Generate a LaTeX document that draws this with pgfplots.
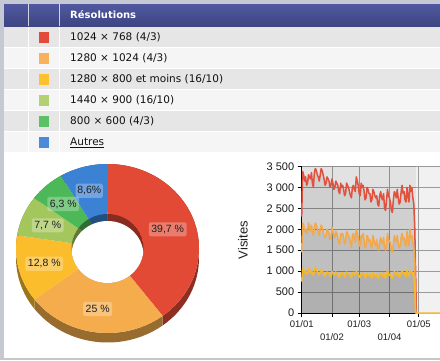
\documentclass[border=0pt]{standalone}
\usepackage{pgfplots}
\pgfplotsset{compat=1.18}
\usepackage{pgfplotstable}
\usepackage{fontspec}
\setmainfont{DejaVu Sans}
\newfontfamily\arial{Liberation Sans}
\usetikzlibrary{calc}

\definecolor{pageBorder}{HTML}{C5C9D3}
\definecolor{hdrTop}{HTML}{5059A0}
\definecolor{hdrBot}{HTML}{3D4582}
\definecolor{rowA}{HTML}{E6E6E6}
\definecolor{rowB}{HTML}{F5F5F5}
\definecolor{txt}{HTML}{111111}
\definecolor{sRed}{HTML}{E24B3A}
\definecolor{sOrange}{HTML}{F7B25A}
\definecolor{sYellow}{HTML}{FCC030}
\definecolor{sLgreen}{HTML}{B3D072}
\definecolor{sGreen}{HTML}{5CC065}
\definecolor{sBlue}{HTML}{4A8AD9}
\definecolor{pRed}{HTML}{E24A35}
\definecolor{pOrange}{HTML}{F5AC4C}
\definecolor{pYellow}{HTML}{FBBD2C}
\definecolor{pLgreen}{HTML}{A4C75D}
\definecolor{pGreen}{HTML}{4DB858}
\definecolor{pBlue}{HTML}{3B82D5}
\definecolor{gridcol}{HTML}{9A9A9A}
\definecolor{rbg}{HTML}{F1F1F1}
\definecolor{lRed}{HTML}{E0523E}
\definecolor{lOrange}{HTML}{F2A94E}
\definecolor{lYellow}{HTML}{F6B82A}

\pgfplotstableread[row sep=\\]{x y\\
0 2300\\ 1 3380\\ 2 3300\\ 3 3150\\ 4 3250\\ 5 3050\\ 6 3100\\
7 3300\\ 8 3250\\ 9 3200\\ 10 3350\\ 11 3100\\ 12 3000\\ 13 3350\\
14 3450\\ 15 3400\\ 16 3300\\ 17 3250\\ 18 3150\\ 19 3300\\ 20 3450\\
21 3400\\ 22 3300\\ 23 3200\\ 24 3050\\ 25 3100\\ 26 3250\\ 27 3200\\
28 3150\\ 29 3000\\ 30 3050\\ 31 3200\\ 32 3100\\ 33 2950\\ 34 3000\\
35 3150\\ 36 3100\\ 37 3050\\ 38 2900\\ 39 2850\\ 40 3100\\ 41 3000\\
42 3050\\ 43 2950\\ 44 2800\\ 45 2850\\ 46 3100\\ 47 3050\\ 48 3000\\
49 2900\\ 50 2800\\ 51 2750\\ 52 3000\\ 53 3050\\ 54 2950\\ 55 2900\\
56 3250\\ 57 3150\\ 58 3050\\ 59 2850\\ 60 2800\\ 61 3100\\ 62 3000\\
63 3050\\ 64 2900\\ 65 2700\\ 66 2750\\ 67 3000\\ 68 2950\\ 69 2850\\
70 2850\\ 71 2650\\ 72 2700\\ 73 2950\\ 74 2900\\ 75 2800\\ 76 2750\\
77 2800\\ 78 2600\\ 79 2550\\ 80 2800\\ 81 2900\\ 82 2750\\ 83 2700\\
84 2850\\ 85 2500\\ 86 2450\\ 87 2700\\ 88 2950\\ 89 2800\\ 90 2750\\
91 2650\\ 92 2450\\ 93 2400\\ 94 2700\\ 95 2900\\ 96 2850\\ 97 2750\\
98 2950\\ 99 2750\\ 100 2600\\ 101 2650\\ 102 2900\\ 103 3050\\ 104 2850\\
105 2900\\ 106 2700\\ 107 2650\\ 108 3000\\ 109 2800\\ 110 2650\\ 111 3050\\
112 2900\\ 113 3000\\ 114 2750\\ 115 2600\\ 116 2000\\ 117 800\\ 117.6 0\\
}\redT

\pgfplotstableread[row sep=\\]{x y\\
0 1450\\ 1 2150\\ 2 2100\\ 3 1950\\ 4 2000\\ 5 1900\\ 6 1950\\
7 2150\\ 8 2050\\ 9 1950\\ 10 2100\\ 11 1950\\ 12 1850\\ 13 2050\\
14 2150\\ 15 2100\\ 16 2000\\ 17 1950\\ 18 1850\\ 19 2000\\ 20 2100\\
21 2050\\ 22 1950\\ 23 1850\\ 24 1800\\ 25 1850\\ 26 2000\\ 27 1950\\
28 1900\\ 29 1750\\ 30 1750\\ 31 2050\\ 32 1950\\ 33 1850\\ 34 1800\\
35 1950\\ 36 1900\\ 37 1800\\ 38 1650\\ 39 1650\\ 40 1900\\ 41 1850\\
42 1900\\ 43 1800\\ 44 1650\\ 45 1700\\ 46 1950\\ 47 1900\\ 48 1850\\
49 1800\\ 50 1700\\ 51 1550\\ 52 1850\\ 53 1900\\ 54 1800\\ 55 1700\\
56 2000\\ 57 1900\\ 58 1800\\ 59 1600\\ 60 1600\\ 61 1850\\ 62 1800\\
63 1900\\ 64 1750\\ 65 1550\\ 66 1600\\ 67 1850\\ 68 1800\\ 69 1700\\
70 1750\\ 71 1600\\ 72 1550\\ 73 1850\\ 74 1750\\ 75 1650\\ 76 1600\\
77 1750\\ 78 1550\\ 79 1500\\ 80 1700\\ 81 1800\\ 82 1700\\ 83 1650\\
84 1800\\ 85 1550\\ 86 1500\\ 87 1650\\ 88 1900\\ 89 1750\\ 90 1700\\
91 1700\\ 92 1500\\ 93 1450\\ 94 1650\\ 95 1850\\ 96 1750\\ 97 1700\\
98 1850\\ 99 1650\\ 100 1550\\ 101 1600\\ 102 1800\\ 103 1900\\ 104 1750\\
105 1800\\ 106 1650\\ 107 1600\\ 108 1950\\ 109 1750\\ 110 1600\\ 111 2000\\
112 1800\\ 113 1850\\ 114 1700\\ 115 1550\\ 116 1200\\ 116.8 0\\
}\orangeT

\pgfplotstableread[row sep=\\]{x y\\
0 750\\ 1 1080\\ 2 1050\\ 3 950\\ 4 1000\\ 5 930\\ 6 960\\
7 1060\\ 8 1000\\ 9 940\\ 10 1020\\ 11 960\\ 12 900\\ 13 980\\
14 1100\\ 15 1040\\ 16 980\\ 17 950\\ 18 900\\ 19 970\\ 20 1030\\
21 1000\\ 22 960\\ 23 900\\ 24 880\\ 25 920\\ 26 980\\ 27 960\\
28 950\\ 29 880\\ 30 870\\ 31 990\\ 32 960\\ 33 910\\ 34 900\\
35 980\\ 36 940\\ 37 900\\ 38 850\\ 39 860\\ 40 950\\ 41 930\\
42 960\\ 43 920\\ 44 860\\ 45 880\\ 46 980\\ 47 950\\ 48 930\\
49 920\\ 50 880\\ 51 840\\ 52 950\\ 53 970\\ 54 920\\ 55 900\\
56 1000\\ 57 960\\ 58 920\\ 59 860\\ 60 850\\ 61 940\\ 62 920\\
63 960\\ 64 910\\ 65 850\\ 66 860\\ 67 950\\ 68 930\\ 69 890\\
70 920\\ 71 860\\ 72 840\\ 73 960\\ 74 920\\ 75 890\\ 76 870\\
77 930\\ 78 860\\ 79 830\\ 80 920\\ 81 950\\ 82 900\\ 83 880\\
84 960\\ 85 860\\ 86 830\\ 87 900\\ 88 1030\\ 89 930\\ 90 900\\
91 920\\ 92 850\\ 93 820\\ 94 900\\ 95 990\\ 96 940\\ 97 910\\
98 980\\ 99 900\\ 100 860\\ 101 880\\ 102 960\\ 103 1000\\ 104 940\\
105 960\\ 106 900\\ 107 870\\ 108 1020\\ 109 940\\ 110 880\\ 111 1000\\
112 960\\ 113 990\\ 114 920\\ 115 850\\ 116 650\\ 116.8 0\\ 141.8 0\\
}\yellowT

\begin{document}
\begin{tikzpicture}[x=1pt,y=1pt]
% page
\fill[white] (0,0) rectangle (440,360);
\fill[pageBorder] (0,356) rectangle (440,360);
\fill[pageBorder] (0,0) rectangle (4,360);
\fill[black!22] (0,0) rectangle (440,2.5);
% header
\shade[top color=hdrTop, bottom color=hdrBot] (4,334) rectangle (440,356);
% rows
\foreach \i/\rc in {1/rowA,2/rowB,3/rowA,4/rowB,5/rowA,6/rowB}{
  \fill[\rc] (4,{360-(26+21*\i)}) rectangle (440,{360-(27+21*(\i-1))});
}
% column separators
\fill[white] (28,208) rectangle (29,333);
\fill[white] (59,208) rectangle (60,333);
\fill[white,opacity=0.75] (28,334) rectangle (29,356);
\fill[white,opacity=0.75] (59,334) rectangle (60,356);
% squares
\foreach \i/\sc in {1/sRed,2/sOrange,3/sYellow,4/sLgreen,5/sGreen,6/sBlue}{
  \fill[\sc] (39,{360-(37+21*(\i-1))-5.5}) rectangle (49,{360-(37+21*(\i-1))+5.5});
}
% texts
\node[anchor=base west, inner sep=0, font=\bfseries\fontsize{10}{12}\selectfont, text=white] at (70,341.4) {Résolutions};
\foreach \i/\t in {1/{1024 × 768 (4/3)},2/{1280 × 1024 (4/3)},3/{1280 × 800 et moins (16/10)},4/{1440 × 900 (16/10)},5/{800 × 600 (4/3)},6/{\underline{Autres}}}{
  \node[anchor=base west, inner sep=0, font=\fontsize{10.5}{12}\selectfont, text=txt] at (70,{360-(37+21*(\i-1))-3.8}) {\t};
}

% ---------- donut ----------
\def\cx{107.5}\def\cy{111.5}
\def\rx{91.5}\def\ry{84.5}
\def\irx{36}\def\iry{34.5}
\def\th{9.5}
\def\piedata{39.7/pRed, 25/pOrange, 12.8/pYellow, 7.7/pLgreen, 6.3/pGreen, 8.6/pBlue}
% sides
\xdef\cum{90}
\foreach \p/\c in \piedata {
  \pgfmathsetmacro\ae{\cum-3.6*\p}
  \fill[\c!62!black] ($(\cx,\cy)+(\cum:{\rx} and {\ry})$) arc[start angle=\cum, end angle=\ae, x radius=\rx, y radius=\ry] -- ++(0,-\th) arc[start angle=\ae, end angle=\cum, x radius=\rx, y radius=\ry] -- cycle;
  \xdef\cum{\ae}
}
% faces
\xdef\cum{90}
\foreach \p/\c in \piedata {
  \pgfmathsetmacro\ae{\cum-3.6*\p}
  \fill[\c] (\cx,\cy) -- ($(\cx,\cy)+(\cum:{\rx} and {\ry})$) arc[start angle=\cum, end angle=\ae, x radius=\rx, y radius=\ry] -- cycle;
  \xdef\cum{\ae}
}
% hole
\begin{scope}
\clip (\cx,\cy) ellipse [x radius=\irx, y radius=\iry];
\xdef\cum{90}
\foreach \p/\c in \piedata {
  \pgfmathsetmacro\ae{\cum-3.6*\p}
  \fill[\c!60!black] (\cx,\cy) -- ($(\cx,\cy)+(\cum:{\irx} and {\iry})$) arc[start angle=\cum, end angle=\ae, x radius=\irx, y radius=\iry] -- cycle;
  \xdef\cum{\ae}
}
\fill[white] (\cx,\cy-7) ellipse [x radius=\irx, y radius=\iry];
\end{scope}
% labels
\tikzset{lbl/.style={fill=white, fill opacity=0.28, text opacity=1, inner xsep=2.5pt, inner ysep=2.6pt, rounded corners=1.5pt, text height=7.6pt, text depth=1.3pt, font=\arial\fontsize{10.5}{12}\selectfont, text=black!88}}
\node[lbl] at (167.7,130.7) {39,7 \%};
\node[lbl] at (97.7,51) {25 \%};
\node[lbl] at (44.3,96.3) {12,8 \%};
\node[lbl] at (47.7,134.7) {7,7 \%};
\node[lbl] at (63.3,156) {6,3 \%};
\node[lbl, inner xsep=1.6pt] at (89.3,169.3) {8,6\%};

% ---------- line chart ----------
\node[rotate=90, font=\arial\fontsize{13}{13}\selectfont, text=black!88] at (243,120) {Visites};
\begin{axis}[
  at={(301.7pt,47pt)}, anchor=south west,
  scale only axis, width=138.3pt, height=146.6pt,
  xmin=0, xmax=141.85, ymin=0, ymax=3500,
  clip=false,
  axis lines=left, axis line style={-, black, line width=1pt},
  xtick={0,31,59,90,120}, xticklabels={},
  ytick={0,500,...,3500},
  tick align=outside, major tick length=4pt,
  tick style={black, line width=0.8pt},
  grid=major, grid style={gridcol, line width=0.7pt},
  axis background/.style={fill=rbg},
  yticklabel style={font=\arial\fontsize{11}{11}\selectfont, text=black!90},
  /pgf/number format/assume math mode=true,
  /pgf/number format/1000 sep={\ },
]
\addplot[draw=none, fill=black, fill opacity=0.06] coordinates {(0,3500) (117.6,3500)} \closedcycle;
\addplot[draw=none, fill=black, fill opacity=0.08] table[x=x,y=y] {\redT} \closedcycle;
\addplot[draw=none, fill=black, fill opacity=0.08] table[x=x,y=y] {\orangeT} \closedcycle;
\addplot[draw=none, fill=black, fill opacity=0.08] table[x=x,y=y] {\yellowT} \closedcycle;
\addplot[lRed, line width=1.5pt, line join=round] table[x=x,y=y] {\redT};
\addplot[lOrange, line width=1.5pt, line join=round] table[x=x,y=y] {\orangeT};
\addplot[lYellow, line width=1.5pt, line join=round] table[x=x,y=y] {\yellowT};
\node[font=\arial\fontsize{9.5}{10}\selectfont, text=black!88, yshift=-11.3pt] at (axis cs:0,0) {01/01};
\node[font=\arial\fontsize{9.5}{10}\selectfont, text=black!88, yshift=-24.3pt] at (axis cs:31,0) {01/02};
\node[font=\arial\fontsize{9.5}{10}\selectfont, text=black!88, yshift=-11.3pt] at (axis cs:59,0) {01/03};
\node[font=\arial\fontsize{9.5}{10}\selectfont, text=black!88, yshift=-24.3pt] at (axis cs:90,0) {01/04};
\node[font=\arial\fontsize{9.5}{10}\selectfont, text=black!88, yshift=-11.3pt] at (axis cs:120,0) {01/05};
\end{axis}
\pgfresetboundingbox
\useasboundingbox (0,0) rectangle (440,360);
\end{tikzpicture}
\end{document}
